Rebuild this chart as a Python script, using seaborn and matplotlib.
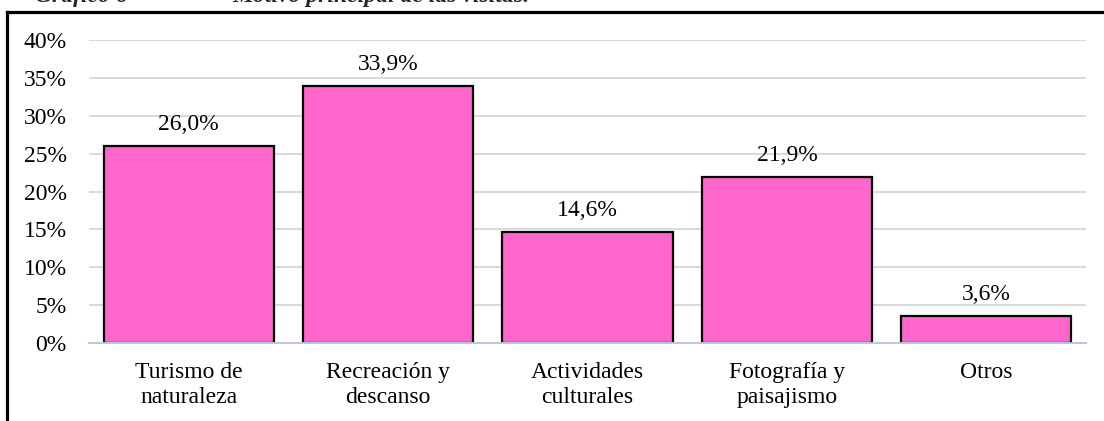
import matplotlib
matplotlib.use("Agg")
import matplotlib.pyplot as plt
import seaborn as sns
from matplotlib.lines import Line2D

categories = ["Turismo de\nnaturaleza", "Recreación y\ndescanso", "Actividades\nculturales",
              "Fotografía y\npaisajismo", "Otros"]
values = [26.0, 33.9, 14.6, 21.9, 3.6]
yticks = [0, 5, 10, 15, 20, 25, 30, 35, 40]
ytick_labels = [f"{t}%" for t in yticks]
title_left = "Gráfico 6"
title_right = "Motivo principal de las visitas."

sns.set_theme(style="white")
plt.rcParams['font.family'] = ['Liberation Serif', 'DejaVu Serif']

W, H = 1104, 421
fig = plt.figure(figsize=(W / 100, H / 100), dpi=100)
ax = fig.add_axes([89 / W, (H - 343) / H, (1086 - 89) / W, (343 - 40) / H])

pink = "#FF66CC"
sns.barplot(x=categories, y=values, color=pink, saturation=1, edgecolor="black",
            linewidth=1.6, width=0.853, ax=ax, zorder=3)

FS = 17
ax.set_ylim(0, 40)
ax.set_yticks(yticks)
ax.set_yticklabels(ytick_labels)
ax.set_xlim(-0.5, len(categories) - 0.5)
ax.set_xlabel("")
ax.set_ylabel("")
for t in yticks[1:]:
    ax.axhline(t, color="#D9D9D9", lw=1.4, zorder=1)
ax.set_axisbelow(True)
for s in ["top", "right", "left"]:
    ax.spines[s].set_visible(False)
ax.spines["bottom"].set_color("#B4C7E7")
ax.spines["bottom"].set_linewidth(1.4)
ax.spines["bottom"].set_zorder(4)
ax.tick_params(axis="both", length=0, labelsize=FS, colors="black")
ax.tick_params(axis="y", pad=16)
ax.tick_params(axis="x", pad=13.5)
for lbl in ax.get_xticklabels():
    lbl.set_linespacing(1.28)

for i, v in enumerate(values):
    ax.annotate(f"{v:.1f}".replace(".", ",") + "%", xy=(i, v), xytext=(0, 8),
                textcoords="offset points", ha="center", va="bottom", fontsize=FS,
                color="black")

# frame of the figure (left and top edges)
fig.add_artist(Line2D([7 / W, 7 / W], [0, (H - 11.5) / H], color="black", lw=2.3,
                      transform=fig.transFigure, solid_capstyle="projecting"))
fig.add_artist(Line2D([7 / W, 1.0], [(H - 11.5) / H, (H - 11.5) / H], color="black", lw=2.3,
                      transform=fig.transFigure, solid_capstyle="projecting"))

# partially visible caption above the frame
fig.text(35 / W, (H - 2) / H, title_left, fontsize=17, fontstyle="italic", fontweight="bold",
         va="baseline", ha="left")
fig.text(232 / W, (H - 2) / H, title_right, fontsize=17, fontstyle="italic", fontweight="bold",
         va="baseline", ha="left")

fig.savefig("out.png", dpi=100)
